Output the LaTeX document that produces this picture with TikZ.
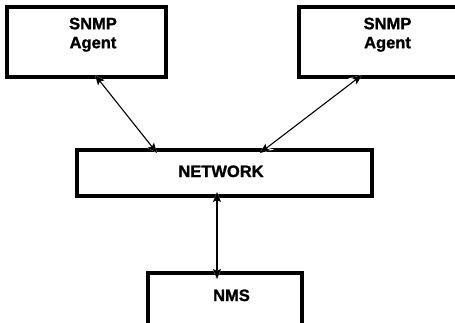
\documentclass[tikz,border=0pt]{standalone}
\usepackage{fontspec}
\setmainfont{Liberation Sans}
\newfontfamily\lblfont[FakeBold=1.3]{Liberation Sans Bold}
\usetikzlibrary{arrows.meta}
\tikzset{
  boxnode/.style={draw=black, line width=3.2pt, rectangle, inner sep=0pt},
  lbl/.style={font=\fontsize{16.5}{19}\lblfont, align=center, inner sep=0pt, anchor=north},
  halo/.style={draw=white, line width=3.5pt, {Stealth[length=13pt,width=11pt]}-{Stealth[length=13pt,width=11pt]}},
  link/.style={draw=black, line width=1.1pt, {Stealth[length=10pt,width=8pt,inset=2pt]}-{Stealth[length=10pt,width=8pt,inset=2pt]}}
}
\begin{document}
\begin{tikzpicture}[x=1pt,y=1pt]
\useasboundingbox (0,0) rectangle (455,322);
\clip (0,0) rectangle (455,322);
\fill[white] (0,0) rectangle (455,322);
% boxes
\node[boxnode, minimum width=159pt, minimum height=70pt] (agentL) at (86.5,280) {};
\node[boxnode, minimum width=166pt, minimum height=70pt] (agentR) at (382,280) {};
\node[boxnode, minimum width=295pt, minimum height=46pt] (net) at (224.5,149) {};
\node[boxnode, minimum width=154pt, minimum height=80pt] (nms) at (225,9) {};
% labels
\node[lbl] (tL) at (93,304.5) {SNMP\\Agent};
\node[lbl] (tR) at (387.5,304.5) {SNMP\\Agent};
\node[lbl, anchor=base] (tN) at (221,145) {NETWORK};
\node[lbl, anchor=base] (tM) at (231.5,21) {NMS};
% connection points
\coordinate (pL1) at (95,247);
\coordinate (pL2) at (157,169);
\coordinate (pR1) at (362,247);
\coordinate (pR2) at (260,169);
\coordinate (pM1) at (217,130);
\coordinate (pM2) at (217,43);
% halos
\draw[halo] (pL1) -- (pL2);
\draw[halo] (pR1) -- (pR2);
\draw[halo] (pM1) -- (pM2);
% arrows
\draw[link] (pL1) -- (pL2);
\draw[link] (pR1) -- (pR2);
\draw[link] (pM1) -- (pM2);
\end{tikzpicture}
\end{document}
